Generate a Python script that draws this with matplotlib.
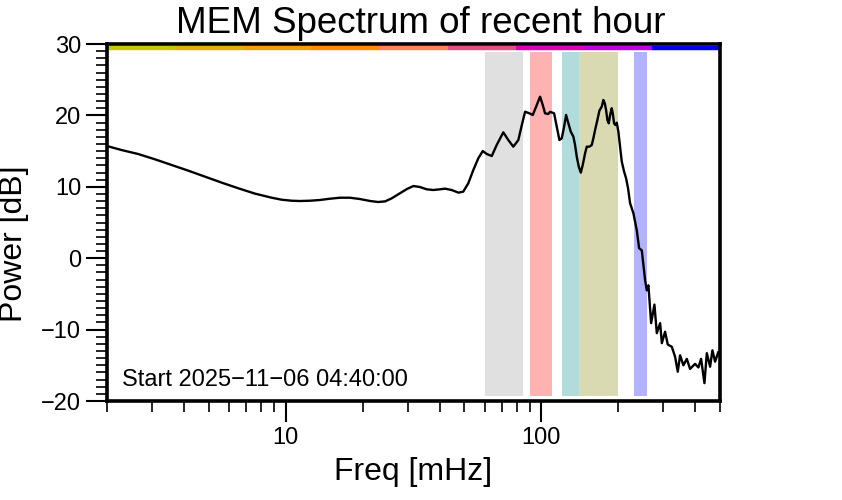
import numpy as np
import matplotlib
matplotlib.use('Agg')
import matplotlib.pyplot as plt
from matplotlib.ticker import FixedLocator, FixedFormatter, NullFormatter, MultipleLocator

plt.rcParams['font.family'] = ['Liberation Sans', 'DejaVu Sans']

# spectrum (freq in mHz, power in dB)
freq = [2.0, 2.28, 2.65, 3.08, 3.58, 4.16, 4.84, 5.62, 6.53, 7.59, 8.82, 9.65,
        10.56, 11.38, 12.45, 13.6, 14.9, 16.3, 17.85, 19.5, 21.4, 23.0, 24.5,
        26.0, 28.0, 29.8, 31.6, 33.5, 35.6, 37.8, 40.2, 42.0, 44.6, 47.4, 49.5,
        51.8, 54.2, 56.7, 59.0, 61.2, 64.0, 66.9, 71.0, 74.3, 77.7, 81.3, 83.9,
        86.4, 89.8, 92.6, 96.0, 98.9, 101.3, 103.4, 106.5, 108.2, 112.2, 114.9,
        117.7, 120.2, 122.8, 125.0, 127.6, 130.4, 133.5, 135.5, 137.6, 140.1,
        142.7, 145.2, 148.3, 150.6, 154.2, 157.5, 159.8, 162.3, 165.7, 168.7,
        172.3, 174.9, 177.1, 179.2, 181.3, 183.6, 185.8, 188.6, 190.3, 192.6,
        194.9, 197.3, 200.2, 203.2, 206.4, 210.8, 214.6, 218.4, 222.5,
        229.2, 236.3, 241.3, 247.2, 254.7, 258.6, 262.4, 268.9, 277.0, 283.0,
        291.6, 296.1, 304.9, 312.4, 323.9, 333.6, 341.8, 349.0, 359.6, 370.8,
        381.8, 399.4, 411.6, 421.7, 434.6, 444.0, 457.4, 467.0, 478.4, 492.8,
        500.0]
power = [15.71, 15.15, 14.59, 13.85, 13.05, 12.26, 11.42, 10.58, 9.79, 9.04,
         8.47, 8.19, 8.05, 8.01, 8.05, 8.15, 8.33, 8.47, 8.47, 8.29, 8.01, 7.87,
         7.96, 8.39, 9.09, 9.69, 10.11, 9.97, 9.65, 9.55, 9.65, 9.74, 9.55, 9.18,
         9.32, 10.49, 12.35, 14.0, 15.01, 14.59, 14.31, 15.85, 17.63, 16.55,
         15.62, 16.55, 18.65, 20.52, 20.29, 20.06, 21.46, 22.62, 21.46, 20.29,
         20.2, 20.5, 20.29, 18.42, 16.55, 16.79, 18.42, 20.06, 18.89, 17.72,
         17.02, 15.85, 14.22, 12.82, 11.98, 13.05, 14.69, 15.62, 15.62, 15.85,
         16.79, 17.95, 19.36, 20.66, 21.22, 22.16, 21.69, 20.76, 19.36, 18.89,
         20.06, 21.0, 20.29, 18.89, 18.65, 18.98, 17.72, 15.62, 13.52, 12.12,
         11.19, 9.79, 7.69,
         6.3, 3.9, 1.4, 1.1, -3.1, -4.5, -3.8, -9.1, -6.5, -10.5, -9.1, -11.9,
         -10.3, -12.1, -12.4, -13.8, -15.9, -13.6, -15.0, -14.1, -15.5, -14.8,
         -15.3, -14.1, -17.5, -13.3, -15.2, -12.9, -14.5, -13.1, -13.6]

# shaded bands (mHz)
band_lo = [60, 90, 120, 140, 230]
band_hi = [85, 110, 140, 200, 260]
band_colors = ['#e0e0e0', '#ffb2b2', '#b2dcdc', '#dadab2', '#b2b2ff']

# colour strip along the top
strip_edges = [2.0, 3.69, 6.82, 12.6, 23.3, 43.0, 79.4, 146.6, 270.8, 500.0]
strip_colors = ['#c8c800', '#dcb400', '#f0a000', '#ff8c00', '#ff8060',
                '#e05080', '#e000b0', '#c000e0', '#0000ee']

fig = plt.figure(figsize=(8.42, 5.0), dpi=100)
ax = fig.add_axes([107 / 842, 99 / 500, 613 / 842, 357 / 500])

for lo, hi, c in zip(band_lo, band_hi, band_colors):
    ax.axvspan(lo, hi, ymin=0.014, ymax=0.978, color=c, lw=0)

for i, c in enumerate(strip_colors):
    ax.hlines(29.45, strip_edges[i], strip_edges[i + 1], color=c, lw=3.2)

ax.plot(freq, power, color='black', lw=1.7)

ax.set_xscale('log')
ax.set_xlim(2, 500)
ax.set_ylim(-20, 30)

ax.xaxis.set_major_locator(FixedLocator([10, 100]))
ax.xaxis.set_major_formatter(FixedFormatter(['10', '100']))
minors = [2, 3, 4, 5, 6, 7, 8, 9, 20, 30, 40, 50, 60, 70, 80, 90, 200, 300, 400, 500]
ax.xaxis.set_minor_locator(FixedLocator(minors))
ax.xaxis.set_minor_formatter(NullFormatter())
ax.yaxis.set_major_locator(MultipleLocator(10))
ax.yaxis.set_minor_locator(MultipleLocator(1))

ax.tick_params(which='major', length=15, width=1.5, labelsize=17, direction='out')
ax.tick_params(which='minor', length=8, width=1.2, direction='out')
ax.tick_params(axis='x', which='major', pad=4)
for s in ax.spines.values():
    s.set_linewidth(2.6)

ax.text(0.024, 0.06, 'Start 2025\u221211\u221206 04:40:00', transform=ax.transAxes,
        fontsize=17, va='center', ha='left')

fig.text(0.5, 1 - 33 / 500, 'MEM Spectrum of recent hour', fontsize=26.5,
         ha='center', va='baseline')
fig.text(413 / 842, 1 - 472 / 500, 'Freq [mHz]', fontsize=23, ha='center', va='center')
fig.text(14 / 842, 1 - 244 / 500, 'Power [dB]', fontsize=23, ha='center', va='center',
         rotation=90)

fig.savefig('out.png', dpi=100)
